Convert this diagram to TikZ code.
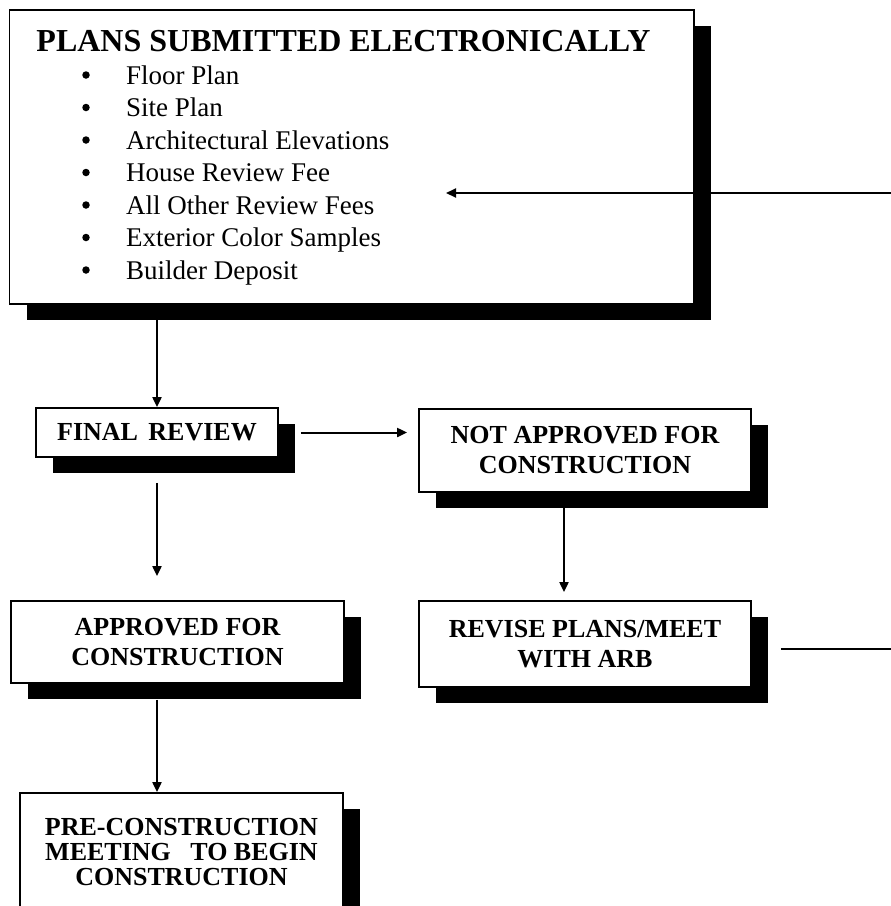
\documentclass[tikz,border=0pt]{standalone}
\usepackage{fontspec}
\setmainfont{Liberation Serif}
\usetikzlibrary{arrows.meta,shadows,calc}
\begin{document}
\begin{tikzpicture}[x=1pt,y=-1pt,
  box/.style={draw=black, line width=1.8pt, fill=white, inner sep=0pt, align=center,
     drop shadow={shadow xshift=17pt, shadow yshift=-16pt, opacity=1, fill=black},
     font=\fontsize{26}{30}\selectfont\bfseries},
  conn/.style={line width=2pt},
  arr/.style={conn, -{Triangle[length=10pt,width=9pt]}},
  item/.style={anchor=base west, inner sep=0pt, font=\fontsize{27}{30}\selectfont},
  dot/.style={circle, fill=black, inner sep=0pt, minimum size=7.5pt}]
\clip (0,0) rectangle (891,906);
\fill[white] (0,0) rectangle (891,906);

% main box
\node[box, minimum width=684.5pt, minimum height=294pt] (main) at (351.75,157) {};
\node[inner sep=0pt, font=\fontsize{32}{36}\selectfont\bfseries] (title) at (343.5,41) {PLANS SUBMITTED ELECTRONICALLY};
\node[dot] (b1) at (86,75) {};
\node[dot] (b2) at (86,107.5) {};
\node[dot] (b3) at (86,140) {};
\node[dot] (b4) at (86,172.5) {};
\node[dot] (b5) at (86,205) {};
\node[dot] (b6) at (86,237.5) {};
\node[dot] (b7) at (86,270) {};
\node[item] (i1) at (126,84) {Floor Plan};
\node[item] (i2) at (126,116.5) {Site Plan};
\node[item] (i3) at (126,149) {Architectural Elevations};
\node[item] (i4) at (126,181.5) {House Review Fee};
\node[item] (i5) at (126,214) {All Other Review Fees};
\node[item] (i6) at (126,246.5) {Exterior Color Samples};
\node[item] (i7) at (126,279) {Builder Deposit};

% flow boxes
\node[box, minimum width=242pt, minimum height=49pt] (fr) at (157,432.5) {FINAL\hspace{0.4em}REVIEW};
\node[box, minimum width=332pt, minimum height=83pt] (na) at (585,450.5) {NOT APPROVED FOR\\CONSTRUCTION};
\node[box, minimum width=332pt, minimum height=86pt] (rev) at (585,644) {REVISE PLANS/MEET\\WITH ARB};
\node[box, minimum width=333pt, minimum height=82pt] (app) at (177.5,642) {APPROVED FOR\\CONSTRUCTION};
\node[box, minimum width=323pt, minimum height=118pt, font=\fontsize{26}{25}\selectfont\bfseries] (pre) at (181.5,852) {PRE-CONSTRUCTION\\MEETING\ \ \ TO BEGIN\\CONSTRUCTION};

% connectors
\coordinate (rin) at (891,193);
\coordinate (tipin) at (446,193);
\coordinate (nab) at (564,508);
\coordinate (rout) at (891,649);
\draw[arr] (rin) -- (tipin);
\draw[arr] (main.south -| fr.north) -- (fr.north);
\draw[arr, shorten <=22pt, shorten >=11pt] (fr.east) -- (fr.east -| na.west);
\draw[arr, shorten >=8pt] (nab) -- (nab |- rev.north);
\draw[arr, shorten <=25pt, shorten >=24pt] (fr.south) -- (fr.south |- app.north);
\draw[arr, shorten <=16pt] (fr.south |- app.south) -- (fr.south |- pre.north);
\draw[conn, shorten <=29pt] (rev.east |- rout) -- (rout);
\end{tikzpicture}
\end{document}
